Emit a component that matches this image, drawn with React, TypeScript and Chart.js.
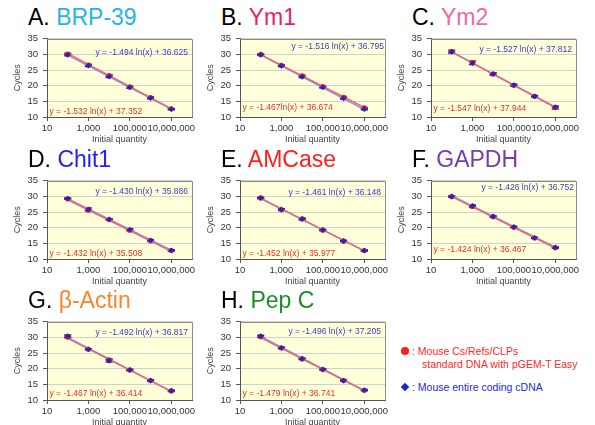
import React, { useEffect, useRef } from "react";
import { Chart, registerables } from "chart.js";

Chart.register(...registerables);

// ---------------- data ----------------
const quantities = [100, 1000, 10000, 100000, 1000000, 10000000];
const fitX = [100, 10000000];
const xTickValues = [10, 1000, 100000, 10000000];
const xMin = 10;
const xMax = 100000000;
const yMin = 10;
const yMax = 35;
const yStep = 5;

const panelLetters = ["A.", "B.", "C.", "D.", "E.", "F.", "G.", "H."];
const geneNames = ["BRP-39", "Ym1", "Ym2", "Chit1", "AMCase", "GAPDH", "β-Actin", "Pep C"];

const brp39Standard = [30.1, 26.6, 23.2, 19.6, 16.2, 12.6];
const brp39Cdna = [29.8, 26.4, 22.9, 19.4, 16.0, 12.5];
const brp39StandardErr = [0.3, 0.3, 0.3, 0.3, 0.3, 0.2];
const brp39CdnaErr = [0.3, 0.3, 0.3, 0.3, 0.2, 0.2];
const brp39StandardFit = [30.3, 12.66];
const brp39CdnaFit = [29.75, 12.54];

const ym1Standard = [30.0, 26.5, 23.1, 19.7, 16.3, 12.9];
const ym1Cdna = [29.8, 26.3, 22.8, 19.4, 15.9, 12.5];
const ym1StandardErr = [0.2, 0.2, 0.3, 0.2, 0.3, 0.2];
const ym1CdnaErr = [0.2, 0.2, 0.2, 0.2, 0.2, 0.2];
const ym1StandardFit = [29.92, 13.03];
const ym1CdnaFit = [29.81, 12.36];

const ym2Standard = [30.9, 27.3, 23.7, 20.1, 16.6, 13.0];
const ym2Cdna = [30.8, 27.2, 23.8, 20.2, 16.6, 13.2];
const ym2StandardErr = [0.5, 0.6, 0.4, 0.3, 0.3, 0.5];
const ym2CdnaErr = [0.3, 0.4, 0.3, 0.3, 0.2, 0.3];
const ym2StandardFit = [30.82, 13.01];
const ym2CdnaFit = [30.78, 13.2];

const chit1Standard = [29.2, 25.6, 22.6, 19.2, 15.8, 12.7];
const chit1Cdna = [29.3, 25.9, 22.7, 19.4, 16.0, 12.8];
const chit1StandardErr = [0.2, 0.3, 0.2, 0.2, 0.2, 0.2];
const chit1CdnaErr = [0.2, 0.4, 0.2, 0.3, 0.3, 0.2];
const chit1StandardFit = [28.91, 12.43];
const chit1CdnaFit = [29.3, 12.84];

const amcaseStandard = [29.5, 25.7, 22.8, 19.2, 15.7, 12.7];
const amcaseCdna = [29.5, 25.9, 22.8, 19.3, 15.8, 12.7];
const amcaseStandardErr = [0.2, 0.3, 0.3, 0.2, 0.2, 0.2];
const amcaseCdnaErr = [0.2, 0.2, 0.2, 0.2, 0.2, 0.2];
const amcaseStandardFit = [29.29, 12.57];
const amcaseCdnaFit = [29.42, 12.6];

const gapdhStandard = [29.9, 26.8, 23.5, 20.1, 16.7, 13.6];
const gapdhCdna = [30.0, 27.0, 23.6, 20.3, 16.8, 13.7];
const gapdhStandardErr = [0.2, 0.3, 0.2, 0.2, 0.2, 0.2];
const gapdhCdnaErr = [0.2, 0.3, 0.2, 0.2, 0.2, 0.2];
const gapdhStandardFit = [29.91, 13.52];
const gapdhCdnaFit = [30.19, 13.77];

const actinStandard = [30.1, 26.2, 22.8, 19.6, 16.2, 12.9];
const actinCdna = [30.4, 26.2, 22.5, 19.6, 16.2, 13.0];
const actinStandardErr = [0.3, 0.2, 0.3, 0.2, 0.2, 0.2];
const actinCdnaErr = [0.4, 0.2, 0.4, 0.2, 0.2, 0.2];
const actinStandardFit = [29.66, 12.77];
const actinCdnaFit = [29.95, 12.77];

const pepcStandard = [30.2, 26.6, 23.1, 19.7, 16.2, 13.1];
const pepcCdna = [30.4, 26.7, 23.2, 19.8, 16.2, 13.2];
const pepcStandardErr = [0.3, 0.3, 0.2, 0.2, 0.2, 0.2];
const pepcCdnaErr = [0.3, 0.2, 0.2, 0.2, 0.2, 0.2];
const pepcStandardFit = [29.93, 12.9];
const pepcCdnaFit = [30.32, 13.09];

const standardSeries = [brp39Standard, ym1Standard, ym2Standard, chit1Standard, amcaseStandard, gapdhStandard, actinStandard, pepcStandard];
const cdnaSeries = [brp39Cdna, ym1Cdna, ym2Cdna, chit1Cdna, amcaseCdna, gapdhCdna, actinCdna, pepcCdna];
const standardErrors = [brp39StandardErr, ym1StandardErr, ym2StandardErr, chit1StandardErr, amcaseStandardErr, gapdhStandardErr, actinStandardErr, pepcStandardErr];
const cdnaErrors = [brp39CdnaErr, ym1CdnaErr, ym2CdnaErr, chit1CdnaErr, amcaseCdnaErr, gapdhCdnaErr, actinCdnaErr, pepcCdnaErr];
const standardFits = [brp39StandardFit, ym1StandardFit, ym2StandardFit, chit1StandardFit, amcaseStandardFit, gapdhStandardFit, actinStandardFit, pepcStandardFit];
const cdnaFits = [brp39CdnaFit, ym1CdnaFit, ym2CdnaFit, chit1CdnaFit, amcaseCdnaFit, gapdhCdnaFit, actinCdnaFit, pepcCdnaFit];

const standardEquations = [
  "y = -1.532 ln(x) + 37.352",
  "y = -1.467ln(x) + 36.674",
  "y = -1.547 ln(x) + 37.944",
  "y = -1.432 ln(x) + 35.508",
  "y = -1.452 ln(x) + 35.977",
  "y = -1.424 ln(x) + 36.467",
  "y = -1.467 ln(x) + 36.414",
  "y = -1.479 ln(x) + 36.741",
];
const cdnaEquations = [
  "y = -1.494 ln(x) + 36.625",
  "y = -1.516 ln(x) + 36.795",
  "y = -1.527 ln(x) + 37.812",
  "y = -1.430 ln(x) + 35.886",
  "y = -1.461 ln(x) + 36.148",
  "y = -1.426 ln(x) + 36.752",
  "y = -1.492 ln(x) + 36.817",
  "y = -1.496 ln(x) + 37.205",
];

const yTitle = "Cycles";
const xTitle = "Initial quantity";
const legendStandard1 = ": Mouse Cs/Refs/CLPs";
const legendStandard2 = "standard DNA with pGEM-T Easy";
const legendCdna = ": Mouse entire coding cDNA";

// ---------------- styles / layout ----------------
const FONT = '"Liberation Sans", Arial, Helvetica, sans-serif';
const geneColors = ["#22B4EA", "#EC1C6C", "#F2679F", "#1E1EFF", "#FF1E1E", "#7A3BA5", "#F7862A", "#1F8A2A"];
const colLeft = [47, 240, 431];
const rowTop = [34, 176, 317];
const plotW = 145;
const plotH = 83;
const yAxisW = 47;
const xAxisH = 30;
const padTop = 6;
const padRight = 8;
const CW = yAxisW + plotW + padRight;
const CH = padTop + plotH + xAxisH;
const cdnaEqDy = [14, 8, 10.5, 11, 12, 7, 11, 10];
const cdnaEqDx = [4, 1, 4, 4, 4, 2, 4, 4];
const standardEqDy = [5.5, 9, 8, 5.5, 5.5, 9, 6, 6];

const RED = "#E41E1E";
const BLUE = "#2323CC";
const RED_LINE = "#E86A6A";
const BLUE_LINE = "#8C8CE6";
const EQ_RED = "#E33030";
const EQ_BLUE = "#3A3ACC";

function Panel({ index }: { index: number }) {
  const ref = useRef<HTMLCanvasElement | null>(null);
  const col = index % 3;
  const row = Math.floor(index / 3);
  const L = colLeft[col];
  const T = rowTop[row];

  useEffect(() => {
    if (!ref.current) return;
    const std = standardSeries[index];
    const cd = cdnaSeries[index];
    const stdErr = standardErrors[index];
    const cdErr = cdnaErrors[index];
    const stdFit = standardFits[index];
    const cdFit = cdnaFits[index];

    const decor = {
      id: "decor",
      beforeDraw(chart: any) {
        const { ctx, chartArea: a } = chart;
        ctx.save();
        ctx.fillStyle = "#FFFFDA";
        ctx.fillRect(a.left, a.top, a.right - a.left, a.bottom - a.top);
        ctx.restore();
      },
      beforeDatasetsDraw(chart: any) {
        const { ctx } = chart;
        const ys = chart.scales.y;
        const drawErr = (dsIndex: number, errs: number[], vals: number[], color: string) => {
          const meta = chart.getDatasetMeta(dsIndex);
          ctx.save();
          ctx.strokeStyle = color;
          ctx.lineWidth = 1.2;
          meta.data.forEach((el: any, i: number) => {
            const x = el.x;
            const y1 = ys.getPixelForValue(vals[i] + errs[i]);
            const y2 = ys.getPixelForValue(vals[i] - errs[i]);
            ctx.beginPath();
            ctx.moveTo(x, y1);
            ctx.lineTo(x, y2);
            ctx.moveTo(x - 3.5, y1);
            ctx.lineTo(x + 3.5, y1);
            ctx.moveTo(x - 3.5, y2);
            ctx.lineTo(x + 3.5, y2);
            ctx.stroke();
          });
          ctx.restore();
        };
        drawErr(2, stdErr, std, "#B01010");
        drawErr(3, cdErr, cd, "#1A1A90");
      },
      afterDraw(chart: any) {
        const { ctx, chartArea: a } = chart;
        ctx.save();
        ctx.strokeStyle = "#8C8C8C";
        ctx.lineWidth = 1;
        ctx.beginPath();
        ctx.moveTo(Math.round(a.left), Math.round(a.top) + 0.5);
        ctx.lineTo(Math.round(a.right) + 0.5, Math.round(a.top) + 0.5);
        ctx.lineTo(Math.round(a.right) + 0.5, Math.round(a.bottom));
        ctx.stroke();
        ctx.font = `8.5px ${FONT}`;
        ctx.textBaseline = "middle";
        ctx.fillStyle = EQ_BLUE;
        ctx.textAlign = "right";
        ctx.fillText(cdnaEquations[index], a.right - cdnaEqDx[index], a.top + cdnaEqDy[index]);
        ctx.fillStyle = EQ_RED;
        ctx.textAlign = "left";
        ctx.fillText(standardEquations[index], a.left + 2.5, a.bottom - standardEqDy[index]);
        ctx.restore();
      },
    };

    const chart = new Chart(ref.current, {
      type: "scatter",
      data: {
        datasets: [
          {
            label: "cDNA fit",
            data: fitX.map((x, i) => ({ x, y: cdFit[i] })),
            showLine: true,
            borderColor: BLUE_LINE,
            borderWidth: 1.5,
            pointRadius: 0,
            order: 4,
          },
          {
            label: "standard fit",
            data: fitX.map((x, i) => ({ x, y: stdFit[i] })),
            showLine: true,
            borderColor: RED_LINE,
            borderWidth: 1.5,
            pointRadius: 0,
            order: 3,
          },
          {
            label: "standard",
            data: quantities.map((x, i) => ({ x, y: std[i] })),
            pointStyle: "circle",
            pointRadius: 2.6,
            backgroundColor: RED,
            borderColor: RED,
            borderWidth: 0,
            order: 2,
          },
          {
            label: "cDNA",
            data: quantities.map((x, i) => ({ x, y: cd[i] })),
            pointStyle: "rectRot",
            pointRadius: 2.8,
            backgroundColor: BLUE,
            borderColor: BLUE,
            borderWidth: 0,
            order: 1,
          },
        ],
      } as any,
      options: {
        animation: false,
        responsive: false,
        maintainAspectRatio: false,
        events: [],
        layout: { padding: { left: 0, top: padTop, right: padRight, bottom: 0 } },
        plugins: { legend: { display: false }, tooltip: { enabled: false }, title: { display: false } },
        scales: {
          x: {
            type: "logarithmic",
            min: xMin,
            max: xMax,
            afterBuildTicks: (s: any) => {
              s.ticks = xTickValues.map((value) => ({ value }));
            },
            afterFit: (s: any) => {
              s.height = xAxisH;
            },
            ticks: {
              autoSkip: false,
              maxRotation: 0,
              padding: 1.5,
              color: "#333",
              font: { family: FONT, size: 9.5 },
              callback: (v: any) => Number(v).toLocaleString("en-US"),
            },
            grid: { drawOnChartArea: false, tickLength: 4, color: "#555", tickColor: "#555" },
            border: { color: "#555", width: 1 },
            title: {
              display: true,
              text: xTitle,
              color: "#444",
              font: { family: FONT, size: 9 },
              padding: { top: 0, bottom: 1.6 },
            },
          },
          y: {
            type: "linear",
            min: yMin,
            max: yMax,
            afterFit: (s: any) => {
              s.width = yAxisW;
            },
            ticks: {
              stepSize: yStep,
              padding: 5,
              color: "#333",
              font: { family: FONT, size: 9.5 },
            },
            grid: { color: "#D0D0D0", tickColor: "#555", tickLength: 4, lineWidth: 1 },
            border: { color: "#555", width: 1 },
            title: {
              display: true,
              text: yTitle,
              color: "#444",
              font: { family: FONT, size: 9 },
              padding: { top: 12.6, bottom: 0 },
            },
          },
        },
      } as any,
      plugins: [decor],
    });
    return () => chart.destroy();
  }, [index]);

  return (
    <>
      <div
        style={{
          position: "absolute",
          left: L - 19,
          top: T - 28,
          fontFamily: FONT,
          fontSize: 23,
          lineHeight: "23px",
          whiteSpace: "nowrap",
        }}
      >
        <span style={{ color: "#000" }}>{panelLetters[index]} </span>
        <span style={{ color: geneColors[index] }}>{geneNames[index]}</span>
      </div>
      <canvas
        ref={ref}
        width={CW}
        height={CH}
        style={{ position: "absolute", left: L - yAxisW, top: T - padTop, width: CW, height: CH }}
      />
    </>
  );
}

function Legend() {
  const text: React.CSSProperties = {
    position: "absolute",
    fontFamily: FONT,
    fontSize: 10.5,
    lineHeight: "12px",
    whiteSpace: "nowrap",
  };
  return (
    <>
      <div style={{ position: "absolute", left: 401, top: 347, width: 8, height: 8, borderRadius: 4, background: "#FF1E1E" }} />
      <div style={{ ...text, left: 412, top: 345, color: "#FF2A2A" }}>{legendStandard1}</div>
      <div style={{ ...text, left: 422, top: 358, color: "#FF2A2A" }}>{legendStandard2}</div>
      <div
        style={{
          position: "absolute",
          left: 402,
          top: 384,
          width: 6,
          height: 6,
          background: "#1F1FE0",
          transform: "rotate(45deg)",
        }}
      />
      <div style={{ ...text, left: 412, top: 381, color: "#1F1FE0" }}>{legendCdna}</div>
    </>
  );
}

export default function App() {
  return (
    <div
      style={{
        position: "absolute",
        left: 0,
        top: 0,
        width: 595,
        height: 425,
        background: "#fff",
        overflow: "hidden",
      }}
    >
      {geneNames.map((_, i) => (
        <Panel key={i} index={i} />
      ))}
      <Legend />
    </div>
  );
}
